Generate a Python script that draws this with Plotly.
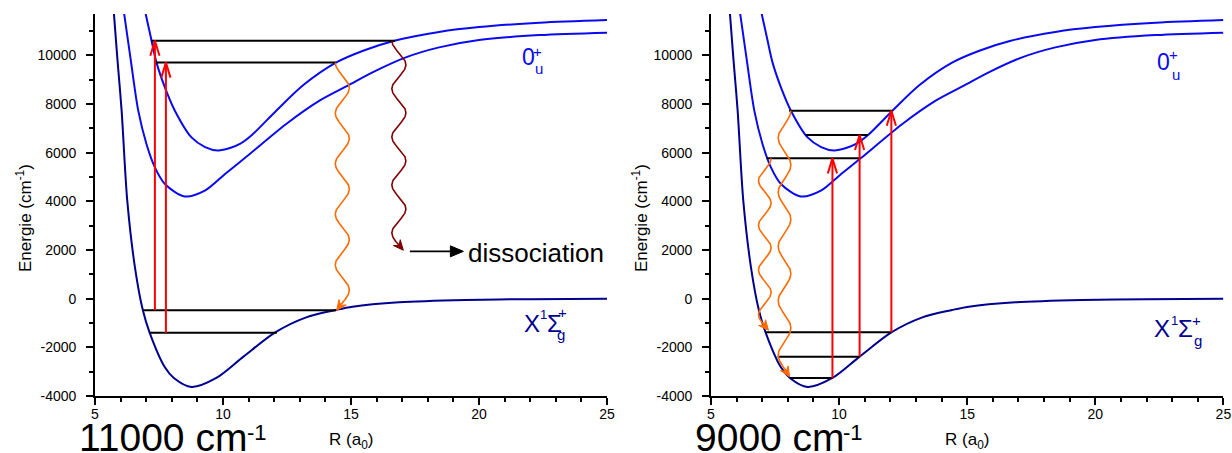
import numpy as np
import plotly.graph_objects as go

# ---------------- data ----------------
# potential curves: R (a0), E (cm-1)
R_X = [5.74, 5.88, 6.04, 6.26, 6.56, 6.87, 7.13, 7.73, 8.08, 8.77, 9.74, 10.80, 12.04, 13.25, 14.41, 15.06, 16.88, 19.48, 22.0, 25.0]
E_X = [11700, 9780, 7725, 4027, 1287, -480, -1384, -2822, -3260, -3630, -3260, -2383, -1384, -767, -465, -329, -151, -55, -20, 0]

R_L = [6.14, 6.40, 6.69, 7.01, 7.34, 7.73, 8.51, 9.29, 10.08, 10.84, 12.47, 13.77, 14.87, 15.84, 17.14, 18.44, 20.0, 22.36, 25.0]
E_L = [11700, 9780, 7725, 6357, 5395, 4713, 4200, 4438, 5124, 5766, 7178, 8136, 8752, 9299, 9915, 10326, 10630, 10830, 10930]

R_U = [6.98, 7.21, 7.40, 7.73, 8.12, 8.77, 9.30, 9.80, 10.30, 10.66, 11.13, 12.08, 13.14, 14.41, 15.50, 16.70, 18.44, 20.0, 22.36, 25.0]
E_U = [11700, 10600, 9710, 8683, 7725, 6628, 6230, 6090, 6200, 6357, 6725, 7725, 8780, 9700, 10200, 10600, 10960, 11160, 11340, 11450]

# left panel (11000 cm-1): vibrational levels
lv1_E = [10600, 9700, -480, -1400]
lv1_R0 = [7.21, 7.37, 6.87, 7.14]
lv1_R1 = [16.72, 14.41, 14.41, 12.10]
# left panel excitation arrows
ex1_R = [7.34, 7.77]
ex1_E0 = [-480, -1400]
ex1_E1 = [10600, 9700]

# right panel (9000 cm-1)
lv2_E = [7725, 6725, 5766, -1384, -2383, -3260]
lv2_R0 = [8.05, 8.70, 7.17, 7.13, 7.60, 8.08]
lv2_R1 = [12.08, 11.13, 10.84, 12.04, 10.80, 9.74]
ex2_R = [9.74, 10.80, 12.04]
ex2_E0 = [-3260, -2383, -1384]
ex2_E1 = [5766, 6725, 7725]

# emission (wavy) transitions: centre R, start E, end E, periods, start side, colour
waves1 = [(14.66, 9700, -480, 4.9, -1, '#FF6A00'),
          (16.87, 10600, 1990, 4.36, -1, '#800000')]
waves2 = [(7.87, 7725, -3210, 4.9, 1, '#FF6A00'),
          (7.10, 5766, -1300, 3.85, 1, '#FF6A00')]

# dissociation arrow (left panel)
diss_R = [17.30, 19.39]
diss_E = 1944

x_ticks = [5, 10, 15, 20, 25]
x_ticklabels = ['5', '10', '15', '20', '25']
y_ticks = [-4000, -2000, 0, 2000, 4000, 6000, 8000, 10000]
y_ticklabels = ['-4000', '-2000', '0', '2000', '4000', '6000', '8000', '10000']

# ---------------- layout geometry ----------------
W, H = 1232, 453


def fx(px):
    return px / W


def fy(py):
    return (H - py) / H


XR = [5, 25]
YR = [-4000, 11700]
xdom1 = [fx(95), fx(607)]
xdom2 = [fx(711), fx(1223.4)]
ydom = [fy(396), fy(13.94)]
PX_PER_R = 512 / (XR[1] - XR[0])
PX_PER_E = 382.06 / (YR[1] - YR[0])

BLUE = '#0A0AF0'
NAVY = '#000090'
RED = '#FF0000'
FONT = 'Liberation Sans, Arial, sans-serif'

fig = go.Figure()


def head(xa, ya, R_tip, E_tip, R_from, E_from, L, w, Ln, col):
    """filled arrow head drawn in data space, sized in pixels"""
    vx = (R_tip - R_from) * PX_PER_R
    vy = -(E_tip - E_from) * PX_PER_E
    n = np.hypot(vx, vy)
    ux, uy = vx / n, vy / n
    nx, ny = -uy, ux
    pts = [(0, 0), (-L * ux + w * nx, -L * uy + w * ny), (-Ln * ux, -Ln * uy),
           (-L * ux - w * nx, -L * uy - w * ny), (0, 0)]
    hx = [R_tip + p[0] / PX_PER_R for p in pts]
    hy = [E_tip - p[1] / PX_PER_E for p in pts]
    fig.add_trace(go.Scatter(x=hx, y=hy, mode='lines', fill='toself', fillcolor=col,
                             xaxis=xa, yaxis=ya, line=dict(color=col, width=1), hoverinfo='skip'))


def add_panel(xa, ya, lvE, lvR0, lvR1, exR, exE0, exE1, waves, amp_px):
    for R, E, c in [(R_X, E_X, NAVY), (R_L, E_L, BLUE), (R_U, E_U, BLUE)]:
        fig.add_trace(go.Scatter(x=R, y=E, mode='lines', xaxis=xa, yaxis=ya,
                                 line=dict(color=c, width=2, shape='spline', smoothing=0.85),
                                 hoverinfo='skip'))
    lx, ly = [], []
    for e, r0, r1 in zip(lvE, lvR0, lvR1):
        lx += [r0, r1, None]
        ly += [e, e, None]
    fig.add_trace(go.Scatter(x=lx, y=ly, mode='lines', xaxis=xa, yaxis=ya,
                             line=dict(color='black', width=2), hoverinfo='skip'))
    ax_, ay_ = [], []
    dxR = 4.6 / PX_PER_R
    dyE = 15 / PX_PER_E
    for r, e0, e1 in zip(exR, exE0, exE1):
        ax_ += [r, r, None, r - dxR, r, r + dxR, None]
        ay_ += [e0, e1, None, e1 - dyE, e1, e1 - dyE, None]
    fig.add_trace(go.Scatter(x=ax_, y=ay_, mode='lines', xaxis=xa, yaxis=ya,
                             line=dict(color=RED, width=2), hoverinfo='skip'))
    for rc, e0, e1, n, side, col in waves:
        t = np.linspace(0, 1, 500)
        R = rc + side * (amp_px / PX_PER_R) * np.cos(2 * np.pi * n * t)
        E = e0 + (e1 - e0) * t
        fig.add_trace(go.Scatter(x=R[:-6], y=E[:-6], mode='lines', xaxis=xa, yaxis=ya,
                                 line=dict(color=col, width=1.6), hoverinfo='skip'))
        head(xa, ya, R[-1], E[-1], R[-16], E[-16], 10, 4.5, 6.5, col)


add_panel('x', 'y', lv1_E, lv1_R0, lv1_R1, ex1_R, ex1_E0, ex1_E1, waves1, 7.0)
add_panel('x2', 'y2', lv2_E, lv2_R0, lv2_R1, ex2_R, ex2_E0, ex2_E1, waves2, 6.3)

# dissociation arrow and text
fig.add_trace(go.Scatter(x=[diss_R[0], diss_R[1] - 8 / PX_PER_R], y=[diss_E, diss_E], mode='lines',
                         xaxis='x', yaxis='y', line=dict(color='black', width=1.6), hoverinfo='skip'))
head('x', 'y', diss_R[1], diss_E, diss_R[0], diss_E, 13, 5.5, 13, 'black')
fig.add_annotation(x=19.50, y=1860, xref='x', yref='y', text='dissociation', showarrow=False,
                   xanchor='left', yanchor='middle', font=dict(family=FONT, size=26, color='black'))


def label(xa, ya, pieces, color):
    for txt, r, e, size, anchor in pieces:
        fig.add_annotation(x=r, y=e, xref=xa, yref=ya, text=txt, showarrow=False,
                           xanchor=anchor, yanchor='middle',
                           font=dict(family=FONT, size=size, color=color))


label('x', 'y', [('0', 21.6, 9916, 23, 'left'), ('+', 22.29, 10170, 15, 'center'),
                 ('u', 22.11, 9451, 15, 'left')], BLUE)
label('x2', 'y2', [('0', 22.33, 9710, 23, 'left'), ('+', 23.05, 10027, 15, 'center'),
                   ('u', 22.9, 9225, 15, 'left')], BLUE)
label('x', 'y', [('X', 21.67, -1007, 24, 'left'), ('1', 22.3, -637, 13, 'left'),
                 ('Σ', 22.58, -1040, 24, 'left'), ('+', 23.27, -563, 15, 'center'),
                 ('g', 22.98, -1479, 15, 'left')], NAVY)
label('x2', 'y2', [('X', 22.23, -1245, 24, 'left'), ('1', 22.87, -904, 13, 'left'),
                   ('Σ', 23.15, -1245, 24, 'left'), ('+', 23.94, -904, 15, 'center'),
                   ('g', 23.76, -1726, 15, 'left')], NAVY)

for xc in [24, 640]:
    fig.add_annotation(x=fx(xc), y=fy(218), xref='paper', yref='paper',
                       text='Energie (cm<sup>-1</sup>)', textangle=-90, showarrow=False,
                       xanchor='center', yanchor='middle', font=dict(family=FONT, size=17, color='black'))
for xc in [351, 967]:
    fig.add_annotation(x=fx(xc), y=fy(441), xref='paper', yref='paper',
                       text='R (a<sub>0</sub>)', showarrow=False,
                       xanchor='center', yanchor='middle', font=dict(family=FONT, size=17, color='black'))
# panel captions: main text + raised exponent
for xl, main, xs in [(77, '11000 cm', 245), (693, '9000 cm', 841)]:
    fig.add_annotation(x=fx(xl), y=fy(437), xref='paper', yref='paper',
                       text=main, showarrow=False, xanchor='left', yanchor='middle',
                       font=dict(family=FONT, size=39, color='black'))
    fig.add_annotation(x=fx(xs), y=fy(432), xref='paper', yref='paper',
                       text='-1', showarrow=False, xanchor='left', yanchor='middle',
                       font=dict(family=FONT, size=22, color='black'))

axis_common = dict(showline=True, linecolor='black', linewidth=1.6, ticks='outside', ticklen=7,
                   tickwidth=1.6, tickcolor='black', showgrid=False, zeroline=False,
                   tickfont=dict(family=FONT, size=14, color='black'), fixedrange=True,
                   automargin=False)
xminor = dict(tickmode='linear', tick0=5, dtick=1, ticks='outside', ticklen=4, tickwidth=1.6, tickcolor='black')
yminor = dict(tickmode='linear', tick0=0, dtick=1000, ticks='outside', ticklen=4, tickwidth=1.6, tickcolor='black')

fig.update_layout(
    width=W, height=H, margin=dict(l=0, r=0, t=0, b=0, autoexpand=False),
    paper_bgcolor='white', plot_bgcolor='white', showlegend=False,
    xaxis=dict(domain=xdom1, range=XR, anchor='y', tickmode='array', tickvals=x_ticks,
               ticktext=x_ticklabels, minor=xminor, ticklabelstandoff=-3, **axis_common),
    yaxis=dict(domain=ydom, range=YR, anchor='x', tickmode='array', tickvals=y_ticks,
               ticktext=y_ticklabels, minor=yminor, ticklabelstandoff=7, **axis_common),
    xaxis2=dict(domain=xdom2, range=XR, anchor='y2', tickmode='array', tickvals=x_ticks,
                ticktext=x_ticklabels, minor=xminor, ticklabelstandoff=-3, **axis_common),
    yaxis2=dict(domain=ydom, range=YR, anchor='x2', tickmode='array', tickvals=y_ticks,
                ticktext=y_ticklabels, minor=yminor, ticklabelstandoff=7, **axis_common),
)

fig.write_html('out.html', config={'displayModeBar': False},
               post_script="document.body.style.margin='0px';document.body.style.overflow='hidden';")
